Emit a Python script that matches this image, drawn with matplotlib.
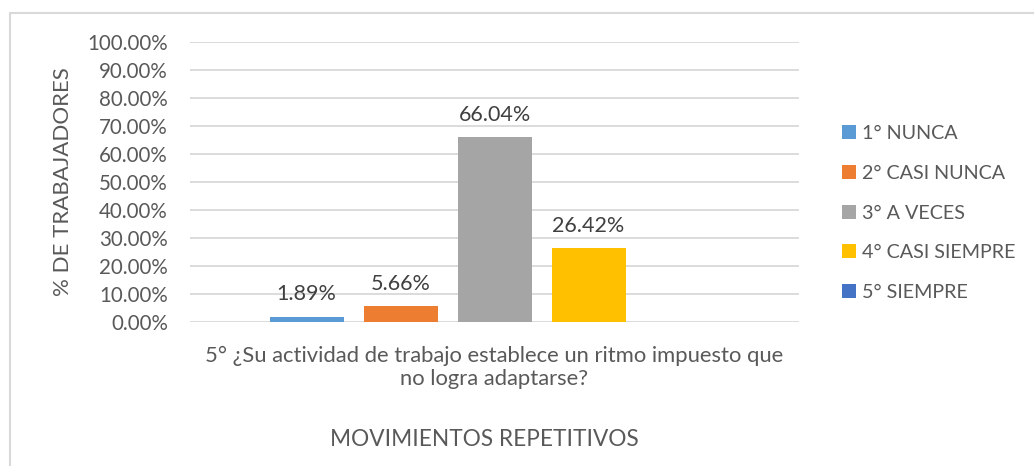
import numpy as np
import matplotlib.pyplot as plt
from matplotlib.patches import Rectangle

plt.rcParams['font.family'] = ['Lato', 'DejaVu Sans']

categorias = ["1° NUNCA", "2° CASI NUNCA", "3° A VECES", "4° CASI SIEMPRE", "5° SIEMPRE"]
valores = [0.0189, 0.0566, 0.6604, 0.2642, 0.0]
colores = ["#5B9BD5", "#ED7D31", "#A5A5A5", "#FFC000", "#4472C4"]
yticks = [0.0, 0.1, 0.2, 0.3, 0.4, 0.5, 0.6, 0.7, 0.8, 0.9, 1.0]
pregunta = ["5° ¿Su actividad de trabajo establece un ritmo impuesto que",
            "no logra adaptarse?"]
titulo_x = "MOVIMIENTOS REPETITIVOS"
titulo_y = "% DE TRABAJADORES"

W, H = 1034, 466
gris = "#595959"

fig = plt.figure(figsize=(W / 100, H / 100), dpi=100)
# chart border (clipped at right/bottom like the source)
fig.patches.append(Rectangle((10 / W, -0.1), 1.2, 1 - 13 / H + 0.1,
                             transform=fig.transFigure, fill=False,
                             edgecolor="#D9D9D9", linewidth=1.5))

ax = fig.add_axes([190 / W, 1 - 322 / H, 609 / W, 280 / H])

ancho = 74 / 609
paso = 94 / 609
n = len(valores)
for i, (cat, v, c) in enumerate(zip(categorias, valores, colores)):
    x = (i - (n - 1) / 2) * paso
    b = ax.bar(x, v, width=ancho, color=c, label=cat, zorder=3)
    if v > 0:
        ax.bar_label(b, labels=[f"{v * 100:.2f}%"], padding=9,
                     fontsize=15.5, color="#404040")

ax.set_xlim(-0.5, 0.5)
ax.set_ylim(0, 1.0)
ax.set_yticks(yticks)
ax.set_yticklabels([f"{t * 100:.2f}%" for t in yticks])
ax.tick_params(axis="y", length=0, pad=16, labelsize=14.8, labelcolor=gris)
ax.set_xticks([])
ax.grid(axis="y", color="#D9D9D9", linewidth=1.3, zorder=0)
for s in ax.spines.values():
    s.set_visible(False)

ax.set_ylabel(titulo_y, fontsize=16, color=gris, labelpad=10)

fig.text(494 / W, 1 - 362 / H, pregunta[0], ha="center", va="baseline",
         fontsize=15.8, color=gris)
fig.text(494 / W, 1 - 385 / H, pregunta[1], ha="center", va="baseline",
         fontsize=15.8, color=gris)
fig.text(484 / W, 1 - 446 / H, titulo_x, ha="center", va="baseline",
         fontsize=16.3, color=gris)

ax.legend(loc="center left", bbox_to_anchor=(832 / W, 1 - 213 / H),
          bbox_transform=fig.transFigure, frameon=False, fontsize=14.2,
          labelcolor=gris, handlelength=0.7, handleheight=0.7,
          handletextpad=0.3, labelspacing=1.15, borderpad=0)

fig.savefig("out.png", dpi=100)
